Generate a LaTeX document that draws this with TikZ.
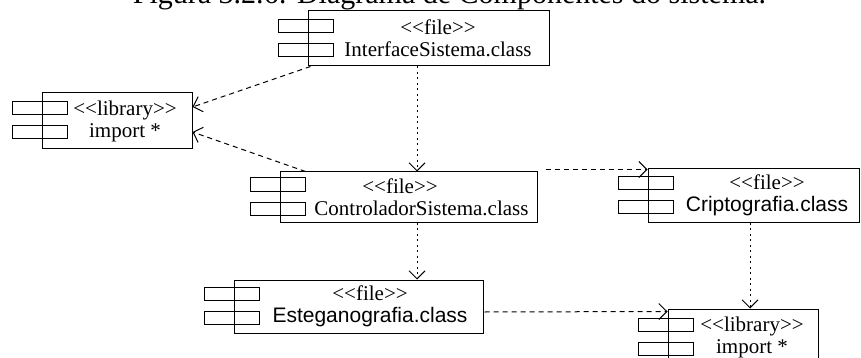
\documentclass[tikz,border=0pt]{standalone}
\usepackage{fontspec}
\setmainfont{Liberation Serif}
\setsansfont{Liberation Sans}
\usetikzlibrary{arrows.meta}

\tikzset{
  comp/.style={draw, line width=1pt, inner sep=0pt},
  ctext/.style={align=center, inner sep=0pt, font=\fontsize{21}{22}\selectfont},
  dep/.style={line width=1pt, dash pattern=on 5pt off 4pt, -{Straight Barb[length=8pt,width=16pt]}},
  depv/.style={dep, dash pattern=on 2pt off 3.5pt},
}
% the two small bars on the left side of a component
\newcommand{\comptabs}[1]{%
  \draw[line width=1pt] ([shift={(-29,-19)}]#1.west) rectangle ([shift={(26,-6)}]#1.west);
  \draw[line width=1pt] ([shift={(-29,5)}]#1.west) rectangle ([shift={(26,18)}]#1.west);
}
\newcommand{\st}[1]{\textless\kern0pt\textless #1\textgreater\kern0pt\textgreater}

\begin{document}
\begin{tikzpicture}[x=1pt,y=-1pt]
  \clip (0,0) rectangle (861,358);
  \node[anchor=base,font=\fontsize{30}{32}\selectfont] (title) at (449.5,4) {Figura 3.2.6: Diagrama de Componentes do sistema.};

  % components
  \node[comp,minimum width=241,minimum height=55] (iface) at (428.5,38.5) {};
  \node[comp,minimum width=150,minimum height=56] (libA) at (117,121) {};
  \node[comp,minimum width=257,minimum height=50] (ctrl) at (408.5,197) {};
  \node[comp,minimum width=211,minimum height=53] (cripto) at (753.5,195.5) {};
  \node[comp,minimum width=249,minimum height=53] (estega) at (358.5,306.5) {};
  \node[comp,minimum width=150,minimum height=56] (libB) at (743,337) {};
  \comptabs{iface}
  \comptabs{libA}
  \comptabs{ctrl}
  \comptabs{cripto}
  \comptabs{estega}
  \comptabs{libB}

  % texts
  \node[ctext] (iface-t) at (438,38.5) {\st{file}\\InterfaceSistema.class};
  \node[ctext] (libA-t) at (125,121) {\st{library}\\import *};
  \node[ctext] (ctrl-t) at (421.5,197) {\hspace*{-43pt}\st{file}\\ControladorSistema.class};
  \node[ctext] (cripto-t) at (767,195.5) {\st{file}\\{\sffamily Criptografia.class}};
  \node[ctext] (estega-t) at (370,306.5) {\st{file}\\{\sffamily Esteganografia.class}};
  \node[ctext] (libB-t) at (752,337) {\st{library}\\import *};

  % dependencies
  \draw[dep] ([shift={(3,0)}]iface.south west) -- ([shift={(0,-14)}]libA.east);
  \draw[dep] ([shift={(26,0)}]ctrl.north west) -- ([shift={(0,11)}]libA.east);
  \draw[depv] ([shift={(-11.5,0)}]iface.south) -- ([shift={(8.5,0)}]ctrl.north);
  \draw[dep] ([shift={(8,-2)}]ctrl.north east) -- ([shift={(0,1)}]cripto.north west);
  \draw[depv] ([shift={(8.5,0)}]ctrl.south) -- ([shift={(58.5,0)}]estega.north);
  \draw[depv] ([shift={(-3.5,0)}]cripto.south) -- ([shift={(7,0)}]libB.north);
  \draw[dep] ([shift={(1,5.5)}]estega.east) -- ([shift={(0,3)}]libB.north west);
\end{tikzpicture}
\end{document}
